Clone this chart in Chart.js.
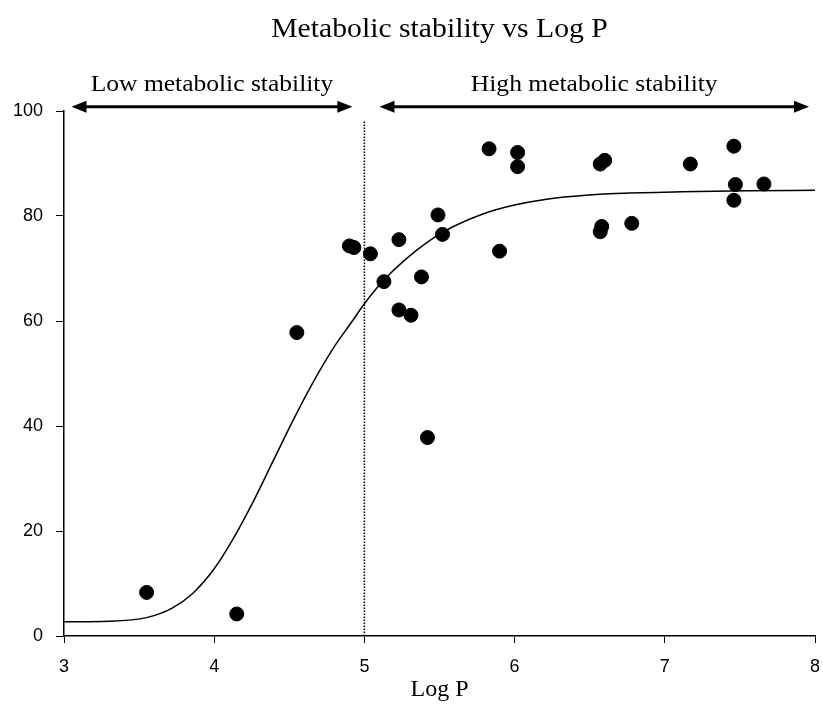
<!DOCTYPE html>
<html>
<head>
<meta charset="utf-8">
<script src="https://cdn.jsdelivr.net/npm/chart.js@4.4.1/dist/chart.umd.min.js"></script>
<style>
  html, body { margin: 0; padding: 0; background: #fff; }
  #wrap { width: 823px; height: 727px; }
</style>
</head>
<body>
<div id="wrap"><canvas id="chart" width="823" height="727"></canvas></div>
<script>
const logP = [3.55, 4.15, 4.55, 4.90, 4.93, 5.04, 5.13, 5.23, 5.23, 5.31, 5.38, 5.42, 5.49, 5.52,
              5.83, 5.90, 6.02, 6.02, 6.57, 6.60, 6.57, 6.58, 6.78, 7.17, 7.46, 7.46, 7.47, 7.66];
const stability = [8.3, 4.2, 57.8, 74.3, 74.0, 72.8, 67.5, 75.5, 62.1, 61.1, 68.4, 37.8, 80.2, 76.5,
                   92.8, 73.3, 92.1, 89.4, 89.9, 90.6, 77.0, 78.0, 78.6, 89.9, 93.3, 83.0, 86.0, 86.1];

// fitted curve
const fitX = [3.0, 3.3, 3.55, 3.72, 3.86, 4.0, 4.12, 4.26, 4.39, 4.52, 4.65, 4.79, 4.92, 5.0,
              5.13, 5.34, 5.52, 5.78, 6.0, 6.33, 6.67, 7.11, 7.55, 8.0];
const fitY = [2.7, 2.8, 3.5, 5.3, 8.2, 12.8, 18.2, 25.6, 33.2, 40.8, 47.9, 54.7, 60.0, 63.3,
              67.8, 73.3, 76.9, 80.3, 82.1, 83.6, 84.3, 84.6, 84.8, 84.9];

const xTicks = [3, 4, 5, 6, 7, 8];
const yTicks = [0, 20, 40, 60, 80, 100];

const cutoff = 5;
const chartTitle = 'Metabolic stability vs Log P';
const lowLabel = 'Low metabolic stability';
const highLabel = 'High metabolic stability';

const serif = '"Liberation Serif", "Times New Roman", serif';
const sans = '"Liberation Sans", Arial, sans-serif';

function arrow(ctx, x1, x2, y) {
  const head = 15, half = 6;
  ctx.beginPath();
  ctx.moveTo(x1 + head - 2, y);
  ctx.lineTo(x2 - head + 2, y);
  ctx.lineWidth = 3;
  ctx.stroke();
  ctx.beginPath();
  ctx.moveTo(x1, y);
  ctx.lineTo(x1 + head, y - half);
  ctx.lineTo(x1 + head, y + half);
  ctx.closePath();
  ctx.fill();
  ctx.beginPath();
  ctx.moveTo(x2, y);
  ctx.lineTo(x2 - head, y - half);
  ctx.lineTo(x2 - head, y + half);
  ctx.closePath();
  ctx.fill();
}

// text a little wider than the font, like the scanned figure
function wideText(ctx, text, x, y, stretch) {
  ctx.save();
  ctx.translate(x, y);
  ctx.scale(stretch, 1);
  ctx.fillText(text, 0, 0);
  ctx.restore();
}

const annotations = {
  id: 'annotations',
  afterDraw(chart) {
    const ctx = chart.ctx;
    const xs = chart.scales.x, ys = chart.scales.y;
    const area = chart.chartArea;
    ctx.save();
    ctx.fillStyle = '#000';
    ctx.strokeStyle = '#000';
    ctx.textAlign = 'center';
    ctx.textBaseline = 'middle';
    ctx.font = '27px ' + serif;
    wideText(ctx, chartTitle, (area.left + area.right) / 2, 30, 1.1);

    const ay = ys.getPixelForValue(100.8);
    const l1 = xs.getPixelForValue(3.05), l2 = xs.getPixelForValue(4.92);
    const h1 = xs.getPixelForValue(5.1), h2 = xs.getPixelForValue(7.96);
    arrow(ctx, l1, l2, ay);
    arrow(ctx, h1, h2, ay);
    ctx.font = '23px ' + serif;
    wideText(ctx, lowLabel, (l1 + l2) / 2, 85, 1.11);
    wideText(ctx, highLabel, (h1 + h2) / 2, 85, 1.11);
    ctx.restore();
  }
};

new Chart(document.getElementById('chart'), {
  type: 'scatter',
  data: {
    datasets: [
      {
        label: 'compounds',
        data: logP.map((x, i) => ({ x: x, y: stability[i] })),
        backgroundColor: '#000',
        borderColor: '#000',
        pointRadius: 7,
        pointHoverRadius: 7,
        order: 1
      },
      {
        label: 'fit',
        type: 'line',
        data: fitX.map((x, i) => ({ x: x, y: fitY[i] })),
        borderColor: '#000',
        borderWidth: 1.5,
        pointRadius: 0,
        cubicInterpolationMode: 'monotone',
        fill: false,
        order: 2
      },
      {
        label: 'cutoff',
        type: 'line',
        data: [{ x: cutoff, y: 0 }, { x: cutoff, y: 98.3 }],
        borderColor: '#000',
        borderWidth: 1.5,
        borderDash: [1.5, 1.5],
        pointRadius: 0,
        fill: false,
        order: 3
      }
    ]
  },
  options: {
    responsive: false,
    animation: false,
    layout: { padding: { top: 111, right: -4, left: 0, bottom: 0 } },
    plugins: {
      legend: { display: false },
      tooltip: { enabled: false },
      title: { display: false }
    },
    scales: {
      x: {
        type: 'linear',
        min: 3,
        max: 8,
        afterBuildTicks: (s) => { s.ticks = xTicks.map(v => ({ value: v })); },
        afterFit: (s) => { s.height = 91; s.paddingRight = -4; s.paddingLeft = 0; },
        grid: { display: true, drawOnChartArea: false, drawTicks: true, tickLength: 7, color: '#000' },
        border: { display: true, color: '#000', width: 1.5 },
        ticks: { color: '#000', padding: 13, font: { family: sans, size: 18 } },
        title: {
          display: true,
          text: 'Log P',
          color: '#000',
          font: { family: serif, size: 24 },
          padding: { top: 0, bottom: 23 }
        }
      },
      y: {
        type: 'linear',
        min: 0,
        max: 100,
        afterBuildTicks: (s) => { s.ticks = yTicks.map(v => ({ value: v })); },
        afterFit: (s) => { s.width = 64; },
        grid: { display: true, drawOnChartArea: false, drawTicks: true, tickLength: 8, color: '#000' },
        border: { display: true, color: '#000', width: 1.5 },
        ticks: { color: '#000', padding: 13, font: { family: sans, size: 18 } }
      }
    }
  },
  plugins: [annotations]
});
</script>
</body>
</html>
